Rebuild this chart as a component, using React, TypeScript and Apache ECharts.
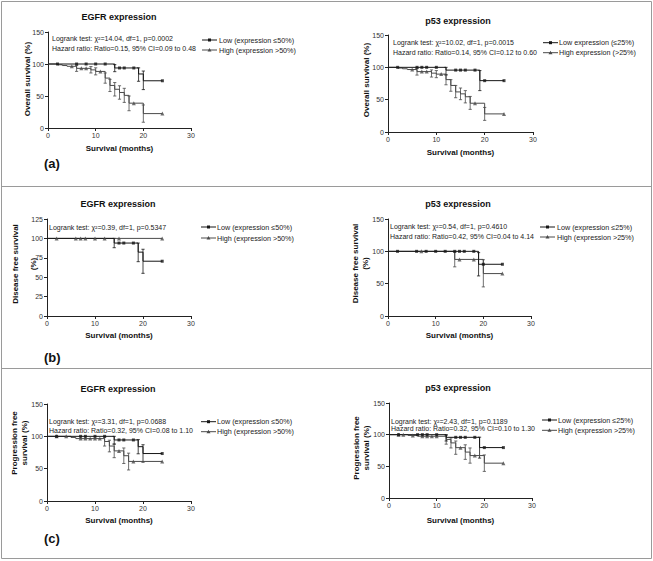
import React, { useEffect, useRef } from "react";
import * as echarts from "echarts";

const FONT = "'Liberation Sans', Arial, Helvetica, sans-serif";
const LOW_COLOR = "#161616";
const HIGH_COLOR = "#4a4a4a";
const AXIS_COLOR = "#222222";
const BORDER_COLOR = "#9a9a9a";

// ---------- tick values ----------
const xTicks = [0, 10, 20, 30];
const yTicksStd = [0, 50, 100, 150];
const yTicksDfsEgfr = [0, 25, 50, 75, 100, 125];

// ---------- texts ----------
const titles = ["EGFR expression", "p53 expression", "EGFR expression", "p53 expression", "EGFR expression", "p53 expression"];
const xName = "Survival (months)";
const yNames = [
  "Overall survival (%)",
  "Overall survival (%)",
  "Disease free survival\n(%)",
  "Disease free survival\n(%)",
  "Progression free\nsurvival (%)",
  "Progression free\nsurvival (%)",
];
const legendLow = [
  "Low (expression ≤50%)",
  "Low expression (≤25%)",
  "Low (expression ≤50%)",
  "Low (expression ≤25%)",
  "Low (expression ≤50%)",
  "Low (expression ≤25%)",
];
const legendHigh = [
  "High (expression >50%)",
  "High expression (>25%)",
  "High (expression >50%)",
  "High (expression >25%)",
  "High (expression >50%)",
  "High (expression >25%)",
];
const statsText = [
  ["Logrank test: χ²=14.04, df=1, p=0.0002", "Hazard ratio: Ratio=0.15, 95% CI=0.09 to 0.48"],
  ["Logrank test: χ²=10.02, df=1, p=0.0015", "Hazard ratio: Ratio=0.14, 95% CI=0.12 to 0.60"],
  ["Logrank test: χ²=0.39, df=1, p=0.5347"],
  ["Logrank test: χ²=0.54, df=1, p=0.4610", "Hazard ratio: Ratio=0.42, 95% CI=0.04 to 4.14"],
  ["Logrank test: χ²=3.31, df=1, p=0.0688", "Hazard ratio: Ratio=0.32, 95% CI=0.08 to 1.10"],
  ["Logrank test: χ²=2.43, df=1, p=0.1189", "Hazard ratio: Ratio=0.32, 95% CI=0.10 to 1.30"],
];
const panelLetters = ["(a)", "(b)", "(c)"];

// ---------- data: [time, survival %] ; errors: [time, lower, upper] ----------
// (a) EGFR – overall survival
const lowCurveA1 = [[0, 100], [14, 93.8], [19, 84.4], [20, 73.8], [24, 73.8]];
const lowCensA1 = [[2, 100], [6, 100], [8, 100], [10, 100], [12, 100], [15, 93.8], [16, 93.8], [18, 93.8], [24, 73.8]];
const lowErrA1 = [[14, 88, 99], [19, 73, 94], [20, 60, 89]];
const highCurveA1 = [[0, 100], [2, 98.8], [3, 97.6], [4, 96.4], [6, 93.2], [9, 90.8], [10, 88.4], [12, 78], [13, 66.5], [14, 60.5], [15, 55.5], [16, 51], [17, 38.8], [20, 22.5], [24, 22.5]];
const highCensA1 = [[5, 96.4], [7, 93.2], [8, 93.2], [11, 88.4], [18, 38.8], [24, 22.5]];
const highErrA1 = [[6, 88.5, 98], [9, 86, 96], [10, 83, 94], [12, 70, 86], [13, 57, 76], [14, 50, 71], [15, 45, 66], [16, 40, 62], [17, 27, 50], [20, 9, 36]];

// (a) p53 – overall survival
const lowCurveA2 = [[0, 100], [12, 95.7], [19, 79.4], [24, 79.4]];
const lowCensA2 = [[2, 100], [6, 100], [7, 100], [8, 100], [10, 100], [14, 95.7], [15, 95.7], [16, 95.7], [18, 95.7], [20, 79.4], [24, 79.4]];
const lowErrA2 = [[12, 88, 100], [19, 64, 95]];
const highCurveA2 = [[0, 100], [2, 98.9], [3, 97.8], [4, 96.6], [6, 93.4], [9, 91], [10, 89.5], [12, 81], [13, 72], [14, 62], [15, 59], [16, 54.5], [17, 44.5], [20, 28], [24, 28]];
const highCensA2 = [[5, 96.6], [7, 93.4], [8, 93.4], [11, 89.5], [18, 44.5], [24, 28]];
const highErrA2 = [[6, 88, 98], [9, 85, 96], [10, 84, 95], [12, 73, 89], [13, 63, 81], [14, 53, 72], [15, 50, 68], [16, 45, 64], [17, 35, 55], [20, 18, 38]];

// (b) EGFR – disease free survival
const lowCurveB1 = [[0, 100], [14, 94], [19, 82.3], [20, 70.6], [24, 70.6]];
const lowCensB1 = [[15, 94], [16, 94], [18, 94], [24, 70.6]];
const lowErrB1 = [[14, 88, 100], [19, 70, 94], [20, 55, 86]];
const highCurveB1 = [[0, 100], [24, 100]];
const highCensB1 = [[2, 100], [6, 100], [7, 100], [8, 100], [10, 100], [12, 100], [15, 100], [24, 100]];
const highErrB1: number[][] = [];

// (b) p53 – disease free survival
const lowCurveB2 = [[0, 100], [19, 80], [24, 80]];
const lowCensB2 = [[2, 100], [6, 100], [8, 100], [10, 100], [12, 100], [14, 100], [15, 100], [16, 100], [18, 100], [20, 80], [24, 80]];
const lowErrB2 = [[19, 62, 98]];
const highCurveB2 = [[0, 100], [14, 87.5], [20, 65.6], [24, 65.6]];
const highCensB2 = [[7, 100], [15, 87.5], [18, 87.5], [24, 65.6]];
const highErrB2 = [[14, 76, 99], [20, 45, 87]];

// (c) EGFR – progression free survival
const lowCurveC1 = [[0, 100], [14, 94.4], [19, 84], [20, 73.4], [24, 73.4]];
const lowCensC1 = [[2, 100], [7, 100], [8, 100], [10, 100], [12, 100], [15, 94.4], [16, 94.4], [18, 94.4], [24, 73.4]];
const lowErrC1 = [[14, 88, 100], [19, 73, 95], [20, 60, 87]];
const highCurveC1 = [[0, 100], [5, 98.3], [6, 96.5], [12, 92], [13, 85], [14, 77.5], [16, 70], [17, 61.2], [24, 61.2]];
const highCensC1 = [[2, 100], [4, 100], [7, 96.5], [8, 96.5], [9, 96.5], [10, 96.5], [11, 96.5], [15, 77.5], [18, 61.2], [24, 61.2]];
const highErrC1 = [[12, 85, 99], [13, 76, 94], [14, 67, 88], [16, 58, 82], [17, 48, 74]];

// (c) p53 – progression free survival
const lowCurveC2 = [[0, 100], [12, 95.8], [19, 79.6], [24, 79.6]];
const lowCensC2 = [[2, 100], [6, 100], [7, 100], [8, 100], [10, 100], [14, 95.8], [15, 95.8], [16, 95.8], [18, 95.8], [20, 79.6], [24, 79.6]];
const lowErrC2 = [[12, 90, 100], [19, 63, 96]];
const highCurveC2 = [[0, 100], [4, 98.8], [6, 97.5], [12, 92.5], [13, 87], [14, 79.5], [16, 72.5], [17, 67], [20, 55], [24, 55]];
const highCensC2 = [[2, 100], [3, 100], [5, 98.8], [7, 97.5], [8, 97.5], [9, 97.5], [10, 97.5], [15, 79.5], [18, 67], [24, 55]];
const highErrC2 = [[12, 85, 99], [13, 79, 95], [14, 69, 90], [16, 61, 84], [17, 55, 79], [20, 42, 68]];

const panelData = [
  { low: [lowCurveA1, lowCensA1, lowErrA1], high: [highCurveA1, highCensA1, highErrA1], yTicks: yTicksStd },
  { low: [lowCurveA2, lowCensA2, lowErrA2], high: [highCurveA2, highCensA2, highErrA2], yTicks: yTicksStd },
  { low: [lowCurveB1, lowCensB1, lowErrB1], high: [highCurveB1, highCensB1, highErrB1], yTicks: yTicksDfsEgfr },
  { low: [lowCurveB2, lowCensB2, lowErrB2], high: [highCurveB2, highCensB2, highErrB2], yTicks: yTicksStd },
  { low: [lowCurveC1, lowCensC1, lowErrC1], high: [highCurveC1, highCensC1, highErrC1], yTicks: yTicksStd },
  { low: [lowCurveC2, lowCensC2, lowErrC2], high: [highCurveC2, highCensC2, highErrC2], yTicks: yTicksStd },
];

// ---------- layout (pixels) ----------
const layout = [
  { grid: { left: 48, top: 32, width: 143, height: 96 }, title: [119, 17], yName: [27, 79], yLH: 10, xGap: 16, stats: [52, [38, 48]], legend: { lx: 202, tx: 219, y: [40, 50] } },
  { grid: { left: 388, top: 35, width: 145, height: 97 }, title: [458, 20.5], yName: [366.7, 80], yLH: 10, xGap: 16.5, stats: [393, [42.7, 52.3]], legend: { lx: 543, tx: 559, y: [42.7, 52.7] } },
  { grid: { left: 47, top: 219, width: 144, height: 97 }, title: [118, 204], yName: [24, 264], yLH: 18, xGap: 15.5, stats: [49, [227]], legend: { lx: 201, tx: 217, y: [227, 238] } },
  { grid: { left: 388, top: 219, width: 143, height: 97 }, title: [458, 204], yName: [360, 263.5], yLH: 10, xGap: 15.5, stats: [390, [226.7, 236]], legend: { lx: 540, tx: 557, y: [227, 237] } },
  { grid: { left: 47, top: 404, width: 144, height: 97 }, title: [118, 389], yName: [19.5, 443], yLH: 9.5, xGap: 15.5, stats: [49, [421.7, 430]], legend: { lx: 201, tx: 217, y: [421.7, 431.7] } },
  { grid: { left: 389, top: 403, width: 143, height: 95 }, title: [458, 388.3], yName: [361.7, 448], yLH: 10, xGap: 18, stats: [391, [421, 428.3]], legend: { lx: 542, tx: 558, y: [420, 430.3] } },
];
const letterPos = [[44, 163], [44, 357], [44, 538]];

function errRender(color: string) {
  return (_params: any, api: any) => {
    const t = api.value(0);
    const a = api.coord([t, api.value(1)]);
    const b = api.coord([t, api.value(2)]);
    const c = 1.6;
    const st = { stroke: color, lineWidth: 0.8 };
    return {
      type: "group",
      children: [
        { type: "line", shape: { x1: a[0], y1: a[1], x2: b[0], y2: b[1] }, style: st },
        { type: "line", shape: { x1: a[0] - c, y1: a[1], x2: a[0] + c, y2: a[1] }, style: st },
        { type: "line", shape: { x1: b[0] - c, y1: b[1], x2: b[0] + c, y2: b[1] }, style: st },
      ],
    };
  };
}

function groupSeries(i: number, g: any[], color: string, symbol: string, size: number) {
  const [curve, cens, err] = g;
  return [
    {
      type: "line", xAxisIndex: i, yAxisIndex: i, data: curve, step: "end", symbol: "none", showSymbol: false,
      lineStyle: { color, width: 1 }, silent: true, z: 3,
    },
    {
      type: "custom", xAxisIndex: i, yAxisIndex: i, data: err, encode: { x: 0, y: [1, 2] },
      renderItem: errRender(color), silent: true, z: 2,
    },
    {
      type: "scatter", xAxisIndex: i, yAxisIndex: i, data: cens, symbol, symbolSize: size,
      itemStyle: { color }, silent: true, z: 4,
    },
  ];
}

function txt(x: number, y: number, text: string, o: any = {}) {
  const align = o.align || "left";
  const vAlign = "middle";
  return {
    type: "text", x, y, rotation: o.rotation || 0, silent: true,
    style: {
      text, fill: o.fill || "#1a1a1a", fontFamily: FONT, fontSize: o.size || 7, fontWeight: o.weight || "normal",
      align, verticalAlign: vAlign, textAlign: align, textVerticalAlign: vAlign,
      lineHeight: o.lh,
    },
  };
}

function buildOption() {
  const grids = layout.map((l) => ({ ...l.grid, containLabel: false }));
  const xAxes = layout.map((l, i) => ({
    gridIndex: i, type: "value", min: xTicks[0], max: xTicks[xTicks.length - 1], interval: xTicks[1] - xTicks[0],
    name: xName, nameLocation: "middle", nameGap: l.xGap,
    nameTextStyle: { fontFamily: FONT, fontSize: 8, fontWeight: "bold", color: "#111" },
    axisLine: { show: true, onZero: false, lineStyle: { color: AXIS_COLOR, width: 1 } },
    axisTick: { show: true, length: 3, lineStyle: { color: AXIS_COLOR, width: 1 } },
    axisLabel: { fontFamily: FONT, fontSize: 7, color: "#333", margin: 4 },
    splitLine: { show: false },
  }));
  const yAxes = panelData.map((p, i) => ({
    gridIndex: i, type: "value", min: p.yTicks[0], max: p.yTicks[p.yTicks.length - 1], interval: p.yTicks[1] - p.yTicks[0],
    axisLine: { show: true, onZero: false, lineStyle: { color: AXIS_COLOR, width: 1 } },
    axisTick: { show: true, length: 3, lineStyle: { color: AXIS_COLOR, width: 1 } },
    axisLabel: { fontFamily: FONT, fontSize: 7, color: "#333", margin: 4 },
    splitLine: { show: false },
  }));

  const series: any[] = [];
  panelData.forEach((p, i) => {
    series.push(...groupSeries(i, p.high, HIGH_COLOR, "triangle", 4));
    series.push(...groupSeries(i, p.low, LOW_COLOR, "rect", 3));
  });

  const graphics: any[] = [
    { type: "rect", silent: true, shape: { x: 1.5, y: 1.5, width: 650, height: 557 }, style: { fill: "none", stroke: BORDER_COLOR, lineWidth: 1 } },
    { type: "line", silent: true, shape: { x1: 1.5, y1: 186.5, x2: 651.5, y2: 186.5 }, style: { stroke: BORDER_COLOR, lineWidth: 1 } },
    { type: "line", silent: true, shape: { x1: 1.5, y1: 368.5, x2: 651.5, y2: 368.5 }, style: { stroke: BORDER_COLOR, lineWidth: 1 } },
  ];

  layout.forEach((l, i) => {
    graphics.push(txt(l.title[0], l.title[1], titles[i], { align: "center", size: 9, weight: "bold", fill: "#111" }));
    graphics.push(txt(l.yName[0], l.yName[1], yNames[i], { align: "center", size: 8, weight: "bold", fill: "#111", rotation: Math.PI / 2, lh: l.yLH }));
    const [sx, sys] = l.stats as [number, number[]];
    statsText[i].forEach((s, k) => graphics.push(txt(sx, sys[k], s, { size: 7, fill: "#222" })));
    const lg = l.legend;
    const mid = lg.lx + 7.5;
    [0, 1].forEach((k) => {
      const y = lg.y[k];
      const color = k === 0 ? LOW_COLOR : HIGH_COLOR;
      graphics.push({ type: "line", silent: true, shape: { x1: lg.lx, y1: y, x2: lg.lx + 15, y2: y }, style: { stroke: color, lineWidth: 1 } });
      if (k === 0) {
        graphics.push({ type: "rect", silent: true, shape: { x: mid - 1.5, y: y - 1.5, width: 3, height: 3 }, style: { fill: color } });
      } else {
        graphics.push({ type: "polygon", silent: true, shape: { points: [[mid, y - 2], [mid - 2, y + 1.5], [mid + 2, y + 1.5]] }, style: { fill: color } });
      }
      graphics.push(txt(lg.tx, y, k === 0 ? legendLow[i] : legendHigh[i], { size: 7.2, fill: "#1a1a1a" }));
    });
  });
  panelLetters.forEach((s, k) => graphics.push(txt(letterPos[k][0], letterPos[k][1], s, { size: 13, weight: "bold", fill: "#111" })));

  return {
    animation: false,
    backgroundColor: "#ffffff",
    grid: grids,
    xAxis: xAxes,
    yAxis: yAxes,
    series,
    graphic: { elements: graphics },
  };
}

export default function App() {
  const ref = useRef<HTMLDivElement>(null);
  useEffect(() => {
    if (!ref.current) return;
    const chart = echarts.init(ref.current, null, { renderer: "svg" });
    chart.setOption(buildOption() as any);
    return () => chart.dispose();
  }, []);
  return (
    <div
      ref={ref}
      style={{ position: "absolute", left: 0, top: 0, width: 653, height: 561, background: "#fff" }}
    />
  );
}
